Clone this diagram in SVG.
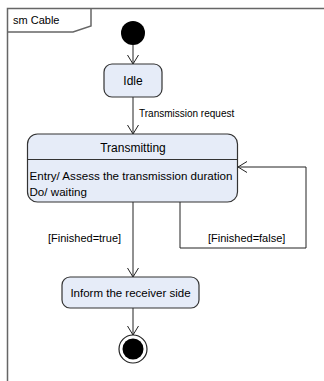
<svg xmlns="http://www.w3.org/2000/svg" width="324" height="381" viewBox="0 0 324 381">
  <style>
    text { font-family: "Liberation Sans", Arial, sans-serif; fill: #000; }
    .frame { fill: none; stroke: #666; stroke-width: 1.5; }
    .state { fill: #e6ecf8; stroke: #333; stroke-width: 1.2; }
    .edge { fill: none; stroke: #222; stroke-width: 1; }
    .head { fill: none; stroke: #222; stroke-width: 1; }
  </style>
  <defs>
    <marker id="open" markerWidth="12" markerHeight="12" refX="10" refY="6" orient="auto" markerUnits="userSpaceOnUse">
      <path d="M1,0.5 L10,6 L1,11.5" class="head"/>
    </marker>
  </defs>
  <rect width="324" height="381" fill="#fff"/>

  <!-- state machine frame -->
  <g id="frame">
    <path class="frame" d="M7.5,381 V8.5 H324"/>
    <path class="frame" d="M7.5,32 H73 L91,26 V8.5"/>
    <text x="13" y="24" font-size="11">sm Cable</text>
  </g>

  <!-- connectors -->
  <g id="connectors">
    <path class="edge" d="M133,45 V64" marker-end="url(#open)"/>
    <path class="edge" d="M133,97 V134" marker-end="url(#open)"/>
    <text x="139" y="117" font-size="10">Transmission request</text>
    <path class="edge" d="M133,202 V277" marker-end="url(#open)"/>
    <text x="48" y="242" font-size="11">[Finished=true]</text>
    <path class="edge" d="M180,202 V248 H306 V167 H238" marker-end="url(#open)"/>
    <text x="208" y="242" font-size="11">[Finished=false]</text>
    <path class="edge" d="M133,308 V335" marker-end="url(#open)"/>
  </g>

  <g id="initial">
    <circle cx="133" cy="33" r="12" fill="#000"/>
  </g>

  <g id="idle">
    <rect class="state" x="104" y="64" width="58" height="33" rx="8"/>
    <text x="133" y="85" font-size="12" text-anchor="middle">Idle</text>
  </g>

  <g id="transmitting">
    <rect class="state" x="27.5" y="134" width="210" height="68" rx="10"/>
    <line x1="27.5" y1="159.5" x2="237.5" y2="159.5" stroke="#333" stroke-width="1.2"/>
    <text x="133" y="152" font-size="12" text-anchor="middle">Transmitting</text>
    <text x="29.5" y="180" font-size="11.6">Entry/ Assess the transmission duration</text>
    <text x="29.5" y="196" font-size="11.6">Do/ waiting</text>
  </g>

  <g id="inform">
    <rect class="state" x="62" y="277" width="137" height="31" rx="8"/>
    <text x="130.5" y="297" font-size="11.5" text-anchor="middle">Inform the receiver side</text>
  </g>

  <g id="final">
    <circle cx="133" cy="349" r="14" fill="#fff" stroke="#222" stroke-width="1.2"/>
    <circle cx="133" cy="349" r="10.5" fill="#000"/>
  </g>
</svg>
